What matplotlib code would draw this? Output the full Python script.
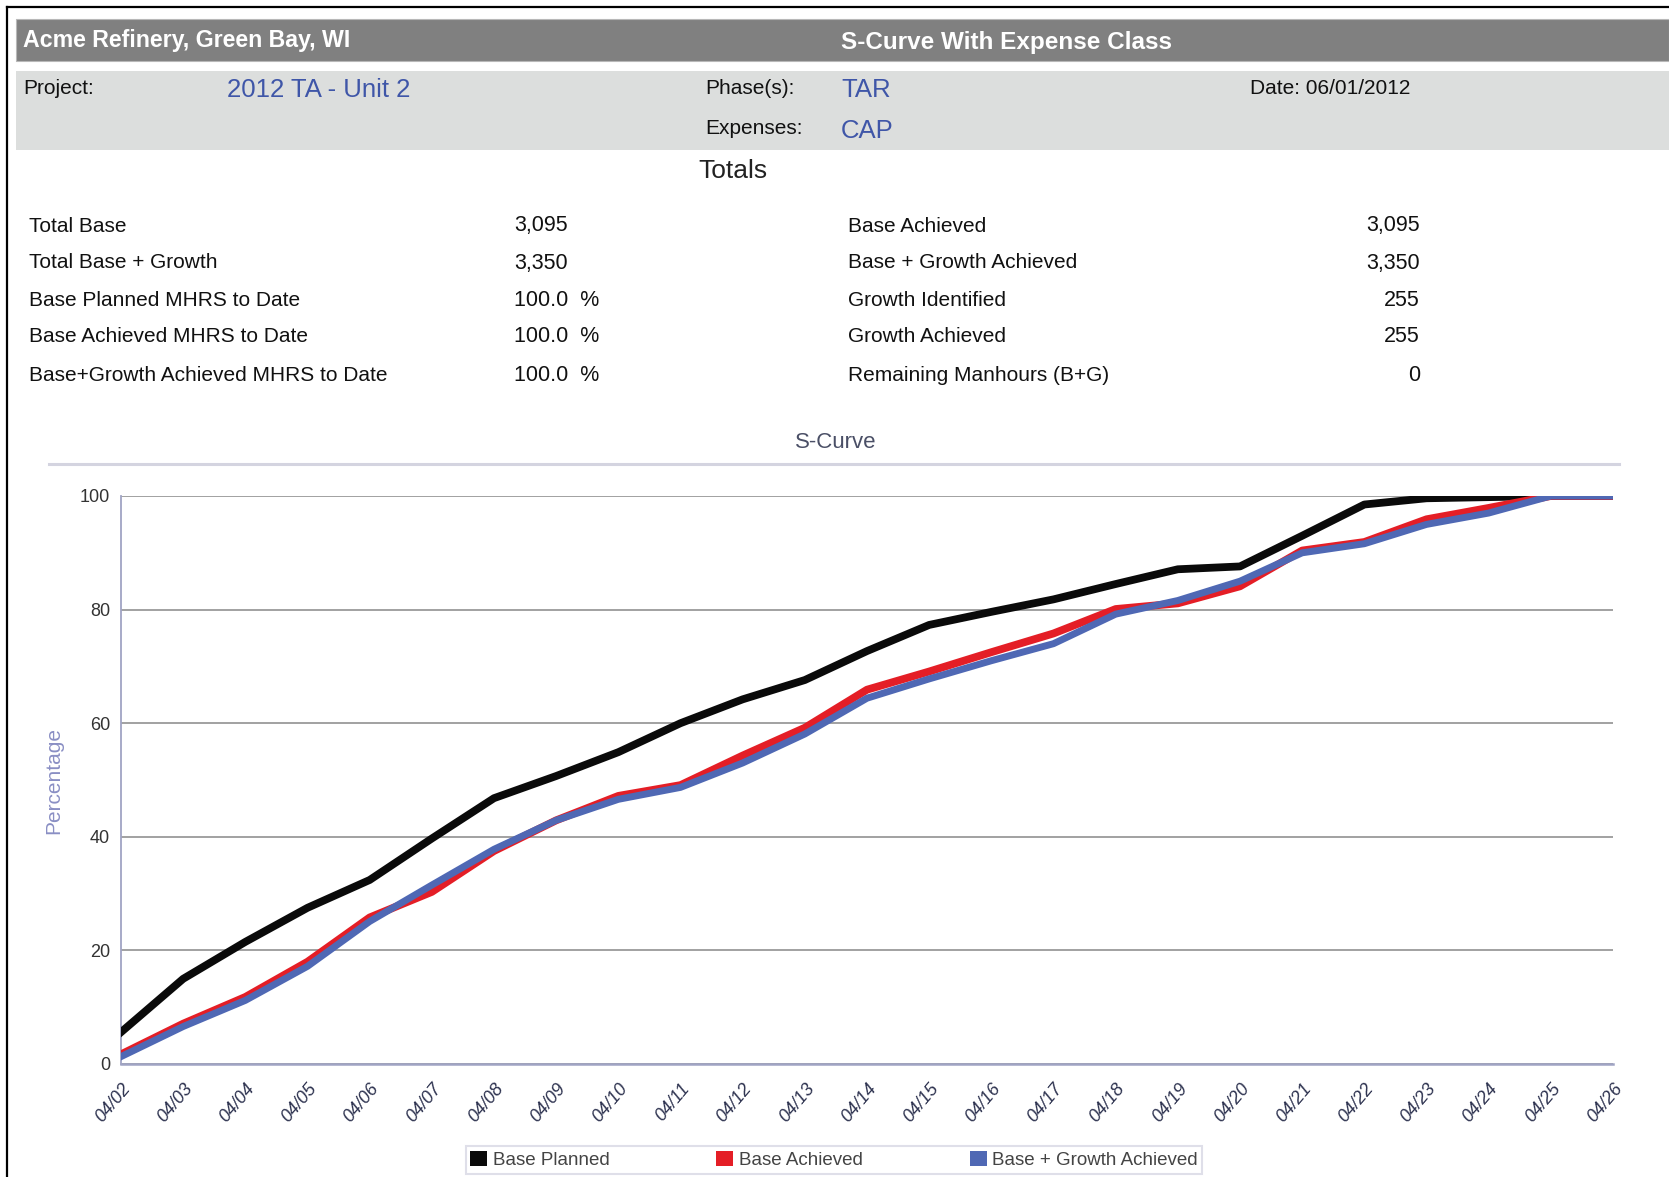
import matplotlib
matplotlib.use("Agg")
import matplotlib.pyplot as plt
from matplotlib.patches import Rectangle, Patch
from matplotlib.lines import Line2D

plt.rcParams["font.family"] = ["Liberation Sans", "DejaVu Sans"]

W, H = 1669, 1177

# ---- data ----
dates = ["04/02", "04/03", "04/04", "04/05", "04/06", "04/07", "04/08", "04/09",
         "04/10", "04/11", "04/12", "04/13", "04/14", "04/15", "04/16", "04/17",
         "04/18", "04/19", "04/20", "04/21", "04/22", "04/23", "04/24", "04/25",
         "04/26"]
base_planned = [5.6, 15.0, 21.5, 27.5, 32.4, 39.7, 46.8, 50.7, 54.9, 60.0, 64.2,
                67.6, 72.7, 77.3, 79.6, 81.8, 84.5, 87.1, 87.6, 93.0, 98.5, 99.6,
                99.8, 100.0, 100.0]
base_achieved = [1.7, 7.1, 11.8, 18.0, 25.8, 30.3, 37.5, 42.9, 47.2, 49.1, 54.3,
                 59.2, 65.9, 69.1, 72.5, 75.8, 80.1, 81.1, 84.1, 90.4, 91.9, 95.9,
                 97.9, 100.0, 100.0]
growth_achieved = [1.3, 6.6, 11.2, 17.2, 25.1, 31.5, 37.8, 42.9, 46.6, 48.7, 53.0,
                   58.1, 64.4, 67.8, 71.0, 74.0, 79.2, 81.6, 85.0, 90.0, 91.6, 95.0,
                   97.0, 100.0, 100.0]
series_names = ["Base Planned", "Base Achieved", "Base + Growth Achieved"]
series_colors = ["#0a0a0a", "#e41e26", "#4f68b4"]

left_labels = ["Total Base", "Total Base + Growth", "Base Planned MHRS to Date",
               "Base Achieved MHRS to Date", "Base+Growth Achieved MHRS to Date"]
left_values = ["3,095", "3,350", "100.0  %", "100.0  %", "100.0  %"]
right_labels = ["Base Achieved", "Base + Growth Achieved", "Growth Identified",
                "Growth Achieved", "Remaining Manhours (B+G)"]
right_values = ["3,095", "3,350", "255", "255", "0"]
row_y = [226, 263, 300, 337, 375]


def fx(x):
    return x / W


def fy(y):
    return 1 - y / H


fig = plt.figure(figsize=(W / 100, H / 100), dpi=100)
fig.patch.set_facecolor("white")

# outer border (top + left)
fig.add_artist(Line2D([fx(7), 1], [fy(7), fy(7)], color="black", lw=1.6))
fig.add_artist(Line2D([fx(7), fx(7)], [fy(7), 0], color="black", lw=1.6))

# header bars
fig.add_artist(Rectangle((fx(16), fy(61)), 1 - fx(16), (61 - 19) / H,
                         transform=fig.transFigure, facecolor="#808080",
                         edgecolor="#b8b8b8", lw=0.8))
fig.add_artist(Rectangle((fx(16), fy(150)), 1 - fx(16), (150 - 71) / H,
                         transform=fig.transFigure, facecolor="#dcdedd",
                         edgecolor="none"))

fig.text(fx(23), fy(40), "Acme Refinery, Green Bay, WI", color="white",
         fontsize=16.7, fontweight="bold", va="center")
fig.text(fx(841), fy(42), "S-Curve With Expense Class", color="white",
         fontsize=17.5, fontweight="bold", va="center")

blue_txt = "#3f56a8"
dark = "#111111"
fig.text(fx(23), fy(89), "Project:", fontsize=15, va="center", color=dark)
fig.text(fx(227), fy(90), "2012 TA - Unit 2", fontsize=18.5, va="center", color=blue_txt)
fig.text(fx(705), fy(89), "Phase(s):", fontsize=15, va="center", color=dark)
fig.text(fx(841), fy(90), "TAR", fontsize=18.5, va="center", color=blue_txt)
fig.text(fx(705), fy(128), "Expenses:", fontsize=15, va="center", color=dark)
fig.text(fx(841), fy(131), "CAP", fontsize=18.5, va="center", color=blue_txt)
fig.text(fx(1250), fy(89), "Date: 06/01/2012", fontsize=15, va="center", color=dark)

fig.text(fx(733), fy(171), "Totals", fontsize=19, ha="center", va="center", color="#222222")

for y, lab, val in zip(row_y, left_labels, left_values):
    fig.text(fx(29), fy(y), lab, fontsize=15, va="center", color=dark)
    fig.text(fx(514), fy(y), val, fontsize=15.5, va="center", color=dark)
for y, lab, val in zip(row_y, right_labels, right_values):
    fig.text(fx(848), fy(y), lab, fontsize=15, va="center", color=dark)
    fig.text(fx(1420), fy(y), val, fontsize=15.5, va="center", ha="right", color=dark)

# chart title and rule
fig.text(fx(836), fy(443), "S-Curve", fontsize=16, ha="center", va="center", color="#4a4f66")
fig.add_artist(Line2D([fx(49), fx(1619)], [fy(464), fy(464)], color="#d4d4e0", lw=2.2))

# ---- chart ----
ax = fig.add_axes([fx(121), fy(1064), (1613 - 121) / W, (1064 - 496) / H])
x = list(range(len(dates)))
ax.plot(x, base_planned, color=series_colors[0], lw=5.6, zorder=3)
ax.plot(x, base_achieved, color=series_colors[1], lw=5.6, zorder=3)
ax.plot(x, growth_achieved, color=series_colors[2], lw=5.0, zorder=4)

ax.set_xlim(0, len(dates) - 1)
ax.set_ylim(0, 100)
ax.set_yticks([0, 20, 40, 60, 80, 100])
ax.yaxis.grid(True, color="#9a9a9a", lw=1.3)
ax.set_axisbelow(True)
ax.set_xticks(x)
ax.set_xticklabels(dates, rotation=50, ha="right", rotation_mode="anchor",
                   fontsize=13, style="italic", color="#2e3350")
ax.tick_params(axis="x", length=0, pad=12)
ax.tick_params(axis="y", length=0, pad=8, labelsize=13, labelcolor="#333333")
for s in ["top", "right"]:
    ax.spines[s].set_visible(False)
ax.spines["left"].set_color("#a0a4c4")
ax.spines["bottom"].set_color("#a0a4c4")
ax.spines["left"].set_linewidth(1.3)
ax.spines["bottom"].set_linewidth(1.8)
ax.set_ylabel("Percentage", fontsize=15, color="#8a8fc4", labelpad=12)

handles = [Patch(facecolor=c, edgecolor="none") for c in series_colors]
leg = fig.legend(handles, series_names, loc="center", ncol=3,
                 bbox_to_anchor=(fx(834), fy(1160)), fontsize=13.5,
                 frameon=True, fancybox=False, edgecolor="#d8d8e4",
                 handlelength=0.9, handleheight=0.9, handletextpad=0.3,
                 columnspacing=5.7, borderpad=0.25, labelcolor="#444444")
leg.get_frame().set_linewidth(1.5)

fig.savefig("out.png", dpi=100, facecolor="white")
